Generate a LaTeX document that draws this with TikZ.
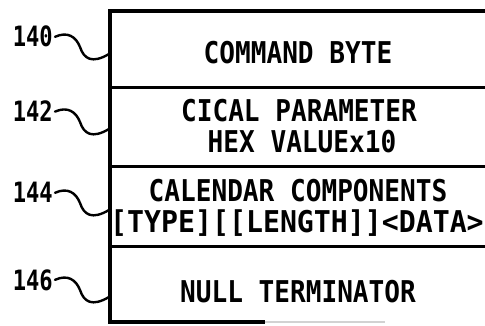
\documentclass[tikz,border=0pt]{standalone}
\usepackage{fontspec}
\newfontfamily\lettering{DejaVu Sans Mono Bold}[FakeStretch=0.87]
\newfontfamily\widelettering{DejaVu Sans Mono Bold}[FakeStretch=0.94]
\newfontfamily\labelfont{DejaVu Sans Mono Bold}[FakeStretch=0.79]
\tikzset{
  frameline/.style={line width=3.4pt},
  divline/.style={line width=3pt},
  rowtext/.style={font=\lettering\fontsize{30}{31}\selectfont, inner sep=0pt, anchor=base},
  widetext/.style={rowtext, font=\widelettering\fontsize{30}{31}\selectfont},
  reflabel/.style={font=\labelfont\fontsize{28}{30}\selectfont, inner sep=2pt, anchor=base east},
  leader/.style={line width=2.4pt, line cap=round}
}
\begin{document}
\begin{tikzpicture}[x=1pt,y=-1pt]
\useasboundingbox (0,0) rectangle (485,326);
% frame
\draw[frameline] (485,11) -- (110,11) -- (110,322) -- (265,322);
\draw[line width=1.5pt, gray!35] (265,322) -- (385,322);
\draw[divline] (110,88) -- (485,88);
\draw[divline] (110,167) -- (485,167);
\draw[divline] (110,246) -- (485,246);
% row texts
\node[rowtext] (r1) at (298,64) {COMMAND BYTE};
\node[rowtext] (r2a) at (299,122) {CICAL PARAMETER};
\node[rowtext] (r2b) at (302,153) {HEX VALUEx10};
\node[rowtext] (r3a) at (298,202) {CALENDAR COMPONENTS};
\node[widetext] (r3b) at (297,233) {[TYPE][[LENGTH]]<DATA>};
\node[rowtext] (r4) at (298,302) {NULL TERMINATOR};
% reference labels and leaders
\foreach \n/\b in {140/47,142/122,144/203,146/290}{
  \node[reflabel] (l\n) at (55,\b) {\n};
  \coordinate (e\n) at (109,{\b+7});
  \draw[leader] (l\n.east) .. controls (68,{\b-16}) and (76,{\b-10}) .. (80,\b)
     .. controls (84,{\b+12}) and (92,{\b+17}) .. (e\n);
}
\end{tikzpicture}
\end{document}
